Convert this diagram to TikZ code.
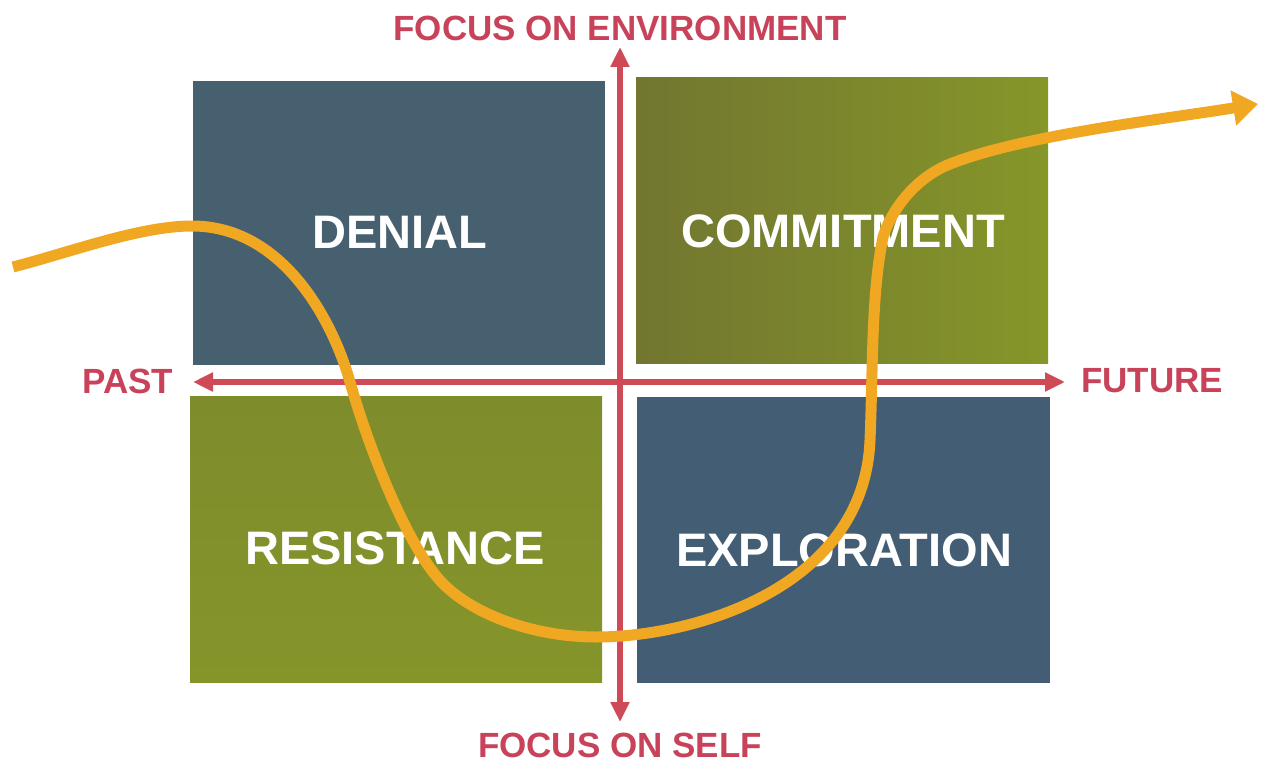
\documentclass[tikz,border=0pt]{standalone}
\usepackage{fontspec}
\setmainfont{Liberation Sans}
\usetikzlibrary{arrows.meta}
\definecolor{qslate}{HTML}{46606F}
\definecolor{qblue}{HTML}{425D74}
\definecolor{qolive}{HTML}{7E8C2C}
\definecolor{qolivedark}{HTML}{727630}
\definecolor{qolivelight}{HTML}{869629}
\definecolor{qaxis}{HTML}{CF4A57}
\definecolor{qtext}{HTML}{C8425A}
\definecolor{qpath}{HTML}{F0A823}

\begin{document}
\begin{tikzpicture}[x=0.5pt, y=-0.5pt, font=\bfseries,
    axis/.style={qaxis, line width=2.6pt, {Triangle[length=10pt,width=9pt]}-{Triangle[length=10pt,width=9pt]}},
    axislabel/.style={qtext, font=\bfseries\fontsize{17.5}{21}\selectfont, inner sep=0pt},
    quadlabel/.style={white, font=\bfseries\fontsize{23.5}{28}\selectfont, inner sep=0pt},
    journey/.style={qpath, line width=5.5pt, -{Triangle[length=12.5pt,width=17pt]}}]
  \useasboundingbox (0,0) rectangle (1261,764);

  % axis end points
  \coordinate (past)   at (193,382);
  \coordinate (future) at (1065,382);
  \coordinate (env)    at (620,47);
  \coordinate (self)   at (620,722);

  % the four quadrants
  \fill[qslate] (193,81) rectangle (605,365);
  \shade[left color=qolivedark, right color=qolivelight] (636,78) rectangle (1048,363);
  \shade[top color=qolive, bottom color=qolivelight!90!qolive] (190,396) rectangle (602,682);
  \fill[qblue] (637,397) rectangle (1050,683);

  \node[quadlabel] (denial)      at (400,232) {DENIAL};
  \node[quadlabel] (commitment)  at (843,231) {COMMITMENT};
  \node[quadlabel] (resistance)  at (395,548) {RESISTANCE};
  \node[quadlabel] (exploration) at (844,550) {EXPLORATION};

  % time and focus axes
  \draw[axis] (past) -- (future);
  \draw[axis] (self) -- (env);

  \node[axislabel] (envlabel)    at (620,28)  {FOCUS ON ENVIRONMENT};
  \node[axislabel] (selflabel)   at (620,745) {FOCUS ON SELF};
  \node[axislabel] (pastlabel)   at (128,381) {PAST};
  \node[axislabel] (futurelabel) at (1152,381) {FUTURE};

  % the path through the four stages
  \coordinate (start)  at (13,267);
  \coordinate (peak)   at (192,226);
  \coordinate (drop)   at (350,382);
  \coordinate (bend)   at (437,577);
  \coordinate (low)    at (597,637);
  \coordinate (rise)   at (870,440);
  \coordinate (turn)   at (883,237);
  \coordinate (level)  at (950,164);
  \coordinate (tip)    at (1258,104);
  \draw[journey] (start) .. controls (71,252) and (140,226) .. (peak)
    .. controls (280,226) and (331,315) .. (drop)
    .. controls (369,449) and (405,539) .. (bend)
    .. controls (466,612) and (530,637) .. (low)
    .. controls (690,637) and (864,590) .. (rise)
    .. controls (873,370) and (871,296) .. (turn)
    .. controls (892,208) and (917,177) .. (level)
    .. controls (1024,135) and (1159,120) .. (tip);
\end{tikzpicture}
\end{document}
